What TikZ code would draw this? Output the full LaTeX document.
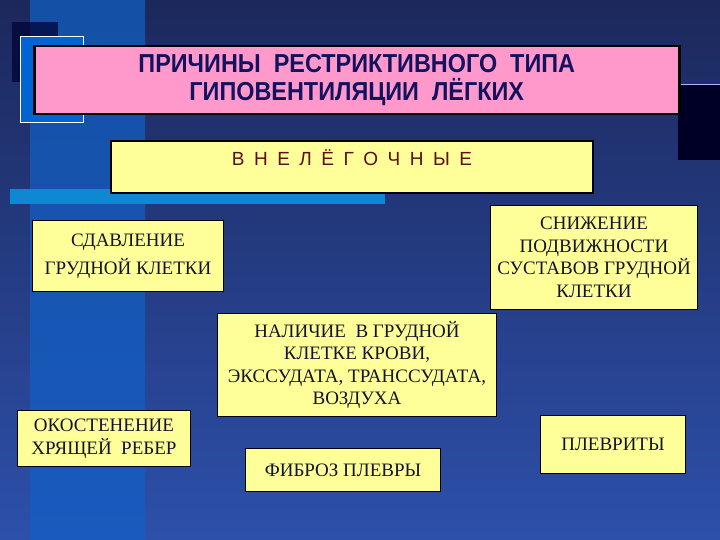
\documentclass[tikz,border=0pt]{standalone}
\usepackage{fontspec}
\setmainfont{Liberation Serif}
\newfontfamily\hsans{Liberation Sans}
\begin{document}
\begin{tikzpicture}[x=1pt,y=-1pt,
 ybox/.style={draw=black,line width=1pt,fill=yellowbg},
 ytext/.style={font=\fontsize{19}{22.5}\selectfont,align=center,text={rgb,255:red,20;green,20;blue,40},inner sep=0}]
\definecolor{yellowbg}{HTML}{FFFF99}
\definecolor{pinkbg}{HTML}{FF99CC}
\definecolor{navytxt}{HTML}{12125E}
\definecolor{brn}{HTML}{5A1010}
\useasboundingbox (0,0) rectangle (720,540);
\shade[top color={rgb,255:red,28;green,40;blue,92},bottom color={rgb,255:red,45;green,80;blue,170}] (0,0) rectangle (720,540);
\shade[top color={rgb,255:red,20;green,80;blue,165},bottom color={rgb,255:red,25;green,90;blue,190}] (30,0) rectangle (145,540);
\fill[black!80!blue,opacity=0.7] (12,22) rectangle (58,82);
\draw[white,fill={rgb,255:red,0;green,100;blue,210}] (20,36) rectangle (83,122);
\fill[black!85!blue] (678,84) rectangle (720,160);
\draw[white!70!blue,line width=0.8pt] (678,84) -- (720,84);
\fill[cyan!70!blue] (10,189) rectangle (385,204);
\node[draw=black,line width=2.5pt,fill=pinkbg,minimum width=645,minimum height=68,anchor=north west,inner sep=0] (t) at (33,45) {};
\node[text=navytxt,font=\hsans\bfseries\fontsize{26}{28}\selectfont,align=center,xscale=0.9] (tt) at (t.center) {ПРИЧИНЫ\ \ РЕСТРИКТИВНОГО\ \ ТИПА\\ГИПОВЕНТИЛЯЦИИ\ \ ЛЁГКИХ};
\node[ybox,line width=2pt,minimum width=482,minimum height=52,anchor=north west] (v) at (110,140) {};
\node[text=brn,font=\hsans\fontsize{19}{21}\selectfont] (vt) at ([yshift=9]v.center) {В\,\,\,Н\,\,\,Е\,\,\,Л\,\,\,Ё\,\,\,Г\,\,\,О\,\,\,Ч\,\,\,Н\,\,\,Ы\,\,\,Е};
\node[ybox,ytext,minimum width=191,minimum height=71,anchor=north west] (a) at (32,220) {СДАВЛЕНИЕ\\[6pt]ГРУДНОЙ КЛЕТКИ};
\node[ybox,ytext,minimum width=207,minimum height=104,anchor=north west] (b) at (490,205) {СНИЖЕНИЕ\\ПОДВИЖНОСТИ\\СУСТАВОВ ГРУДНОЙ\\КЛЕТКИ};
\node[ybox,ytext,minimum width=279,minimum height=103,anchor=north west] (c) at (217,313) {НАЛИЧИЕ\ \ В ГРУДНОЙ\\КЛЕТКЕ КРОВИ,\\ЭКССУДАТА, ТРАНССУДАТА,\\ВОЗДУХА};
\node[ybox,ytext,minimum width=173,minimum height=56,anchor=north west] (d) at (17,410) {ОКОСТЕНЕНИЕ\\ХРЯЩЕЙ\ \ РЕБЕР};
\node[ybox,ytext,minimum width=145,minimum height=58,anchor=north west] (e) at (540,415) {ПЛЕВРИТЫ};
\node[ybox,ytext,minimum width=195,minimum height=43,anchor=north west] (f) at (245,448) {ФИБРОЗ ПЛЕВРЫ};
\end{tikzpicture}
\end{document}
